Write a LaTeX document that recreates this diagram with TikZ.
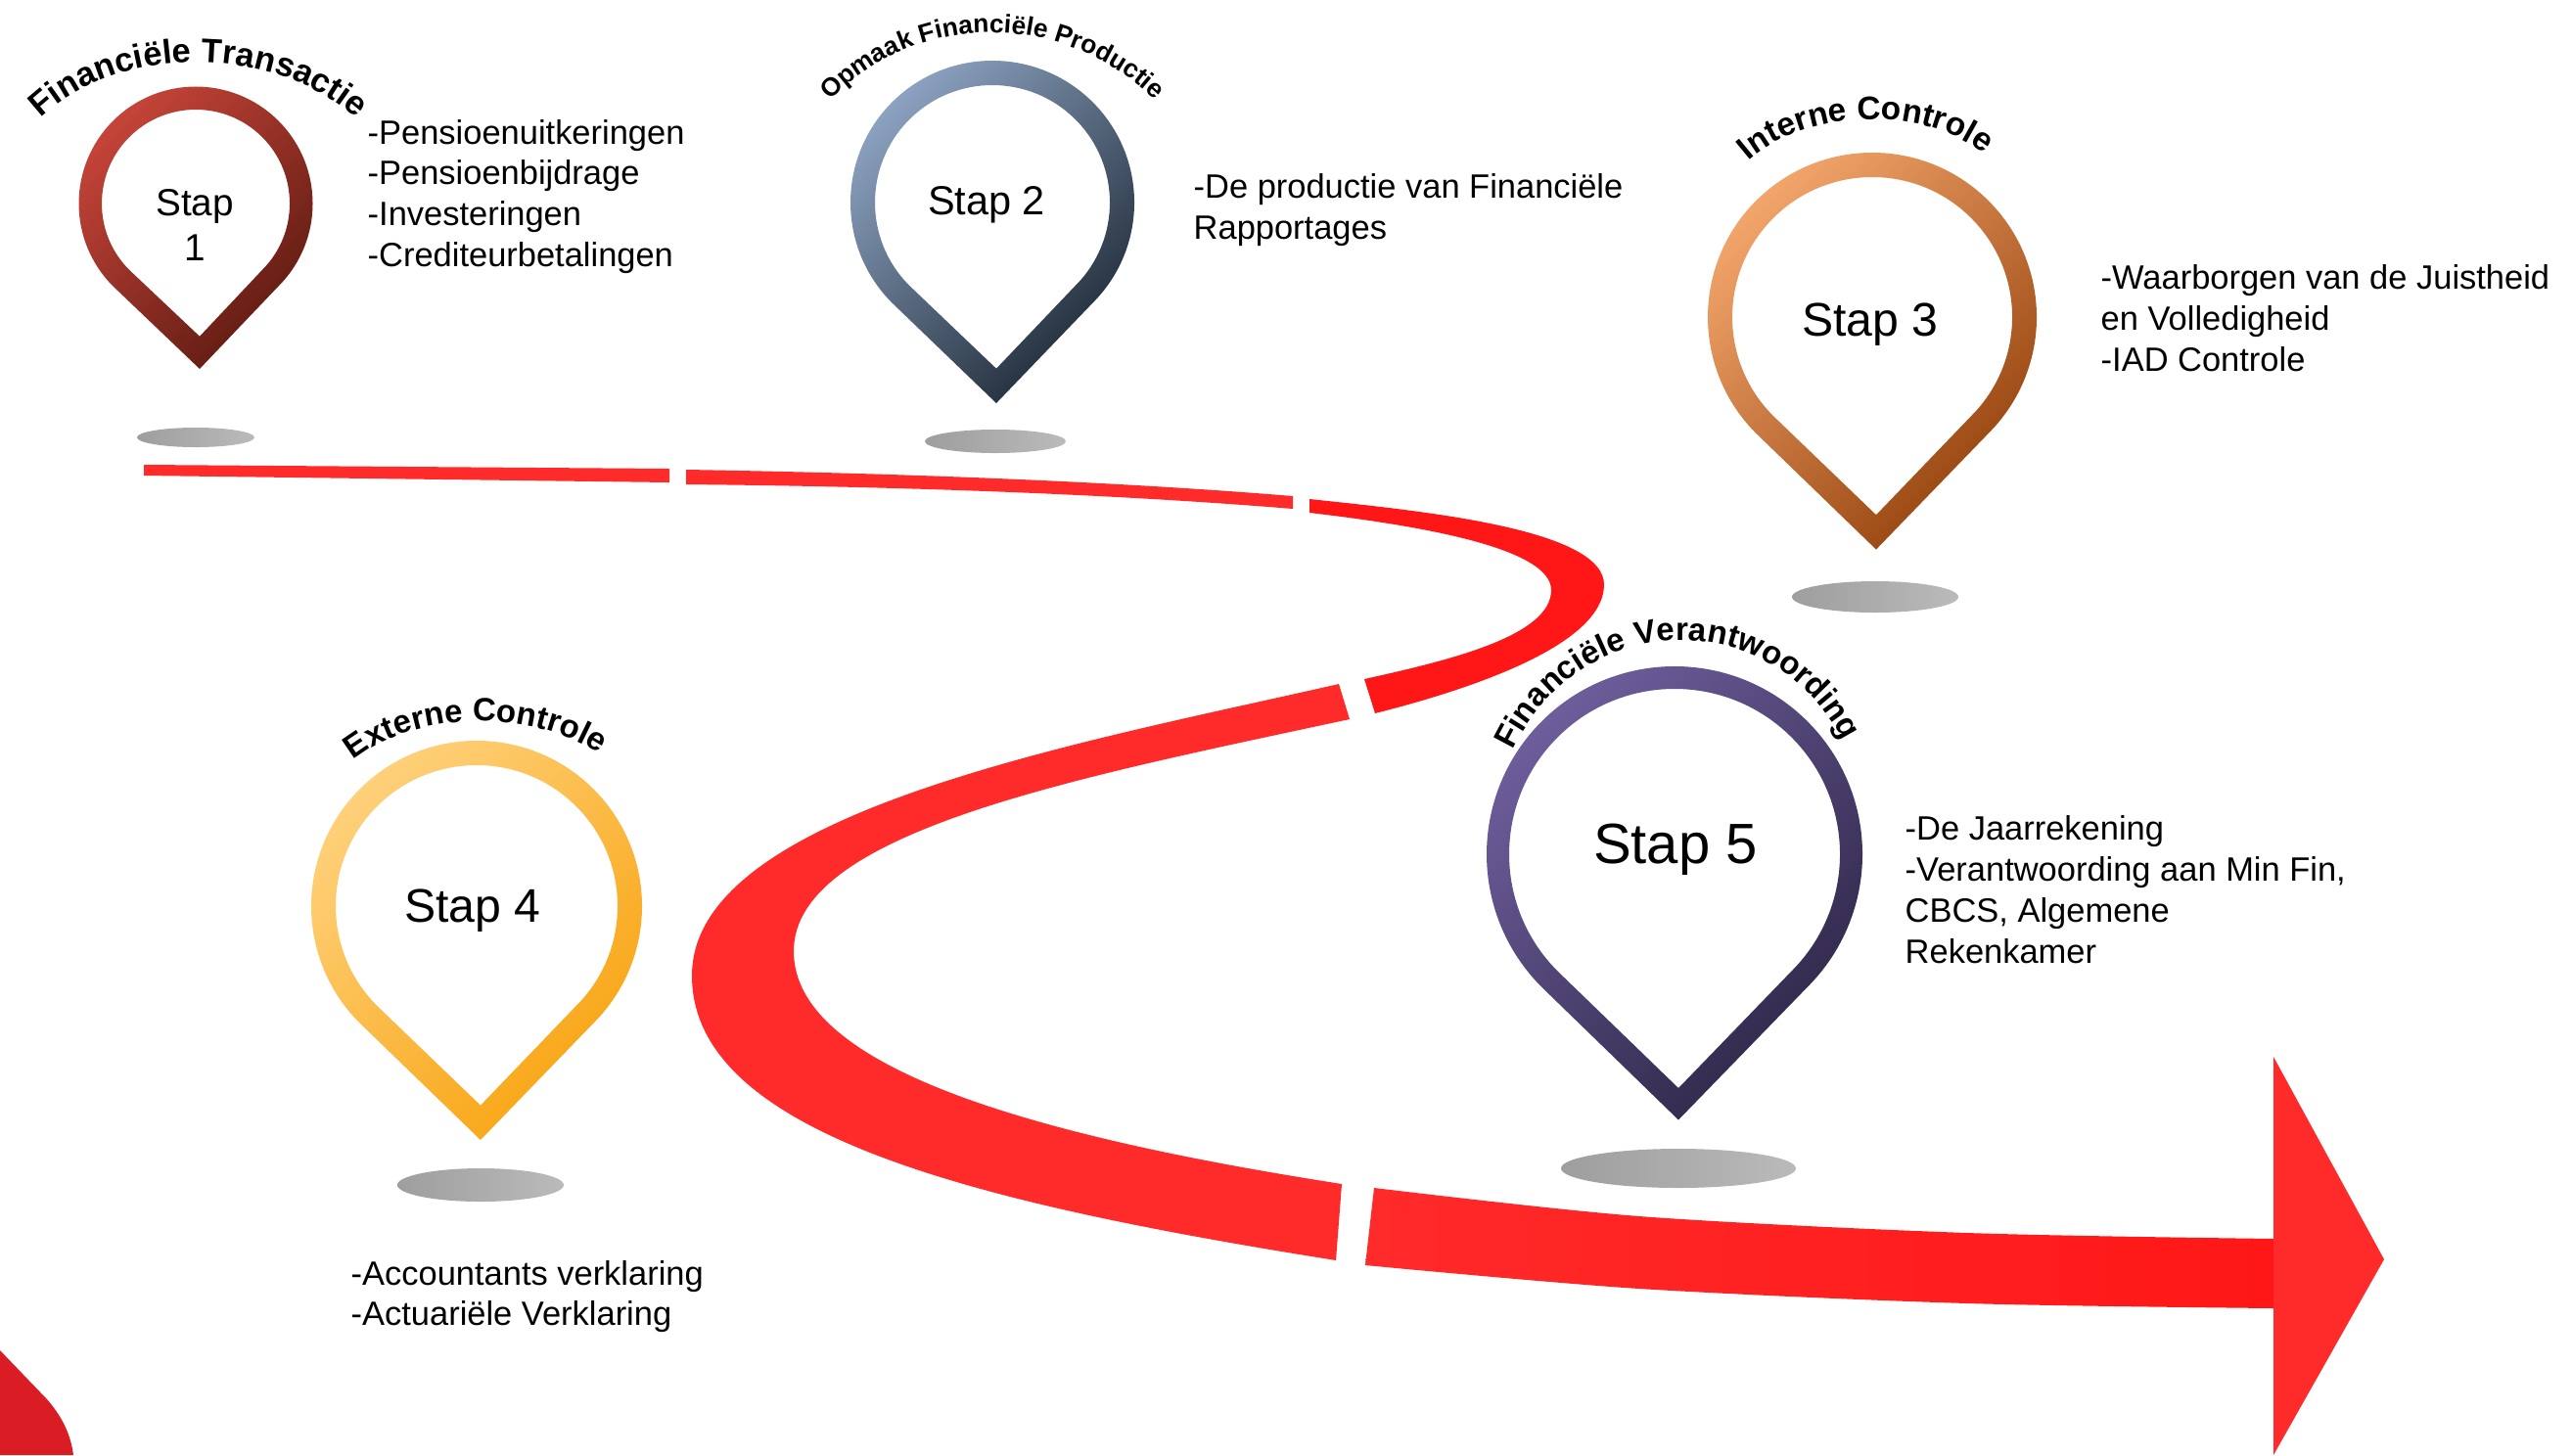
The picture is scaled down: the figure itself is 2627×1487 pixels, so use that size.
\documentclass[tikz,border=0pt]{standalone}
\usepackage{fontspec}
\setmainfont{Liberation Sans}
\usetikzlibrary{decorations.text}

\definecolor{roadred}{HTML}{FF2A2A}
\definecolor{roaddark}{HTML}{FF1717}
\definecolor{cornerred}{HTML}{DA1C24}
\definecolor{pinonelight}{HTML}{C8453A}
\definecolor{pinonedark}{HTML}{5C1A10}
\definecolor{pintwolight}{HTML}{8EA5C4}
\definecolor{pintwodark}{HTML}{1C2733}
\definecolor{pinthreelight}{HTML}{F5A86E}
\definecolor{pinthreedark}{HTML}{93400A}
\definecolor{pinfourlight}{HTML}{FFD27E}
\definecolor{pinfourdark}{HTML}{F8A30F}
\definecolor{pinfivelight}{HTML}{6F5F9E}
\definecolor{pinfivedark}{HTML}{2D2545}

\tikzset{
  listtext/.style={anchor=west, align=left, inner sep=0pt, font=\fontsize{9.8}{11.9}\selectfont},
  staptext/.style={align=center, inner sep=0pt},
  shadowspot/.style={left color=black!38, right color=black!27, draw=none}
}

% one marker: x, y, outer radius, inner radius, light colour, dark colour
\newcommand{\markerpin}[6]{
  \begin{scope}[shift={(#1,#2)}, x=0.01cm, y=0.01cm]
    \shade[even odd rule, left color=#5, right color=#6, shading angle=45]
      (4,{-1.414*#3}) -- ({-.707*#3},{-.707*#3}) arc[start angle=225, end angle=-45, radius=#3] -- cycle
      (4,{-1.414*#4}) -- ({-.707*#4},{-.707*#4}) arc[start angle=225, end angle=-45, radius=#4] -- cycle;
  \end{scope}
}
% text on a bent line: size, text, then the path
\newcommand{\bowtitle}[3]{
  \path[decorate, decoration={text along path, text align=center,
    text={|\fontsize{#1}{#1}\bfseries|#2}}] #3;
}

\begin{document}
\begin{tikzpicture}[x=0.01cm, y=-0.01cm]
  \useasboundingbox (0,0) rectangle (2627,1487);

  % Draw the road
  \fill[roadred] (147,475) -- (684,479) -- (684,493) -- (147,486) -- cycle;
  \fill[roadred] (701,480) .. controls (1000,485) and (1200,497) .. (1321,507) -- (1321,520) .. controls (1200,510) and (1000,498) .. (701,495) -- cycle;
  \fill[roaddark] (1338,510) .. controls (1450,522) and (1640,540) .. (1639,598) .. controls (1638,660) and (1500,705) .. (1405,729)
    -- (1394,694) .. controls (1480,675) and (1585,650) .. (1585,603) .. controls (1585,560) and (1450,537) .. (1338,524) -- cycle;
  \fill[roadred] (1368,699) .. controls (1100,760) and (707,830) .. (707,997) .. controls (707,1160) and (1000,1230) .. (1365,1288)
    -- (1371,1210) .. controls (1050,1160) and (811,1090) .. (811,972) .. controls (811,850) and (1100,795) .. (1379,735) -- cycle;
  \shade[left color=roadred, right color=roaddark]
    plot[smooth] coordinates {(1404,1214) (1675,1243) (2010,1260) (2323,1266)}
    -- plot[smooth] coordinates {(2323,1337) (2010,1332) (1675,1317) (1395,1293)} -- cycle;
  \fill[roadred] (2323,1080) -- (2436,1287) -- (2323,1487) -- cycle;

  % Corner at the bottom left
  \fill[cornerred] (0,1380) -- (48,1430) .. controls (62,1446) and (72,1464) .. (75,1487) -- (0,1487) -- cycle;

  % Draw the shadows
  \shade[shadowspot] (200,447) ellipse [x radius=60, y radius=10];
  \shade[shadowspot] (1017,451) ellipse [x radius=72, y radius=12];
  \shade[shadowspot] (1916,610) ellipse [x radius=85, y radius=16];
  \shade[shadowspot] (491,1211) ellipse [x radius=85, y radius=17];
  \shade[shadowspot] (1715,1194) ellipse [x radius=120, y radius=20];

  % Draw the markers
  \markerpin{200}{208}{119.5}{96}{pinonelight}{pinonedark}
  \markerpin{1014}{207}{145}{120}{pintwolight}{pintwodark}
  \markerpin{1913}{324}{168}{143}{pinthreelight}{pinthreedark}
  \markerpin{487}{926}{169}{144}{pinfourlight}{pinfourdark}
  \markerpin{1711}{873}{192}{169}{pinfivelight}{pinfivedark}

  % Titles above the markers
  \bowtitle{9.8}{Financiële Transactie}{(20,146) .. controls (95,36) and (305,36) .. (386,146)}
  \bowtitle{7.5}{Opmaak Financiële Productie}{(830,125) .. controls (920,3) and (1100,3) .. (1200,123)}
  \bowtitle{9.5}{Interne Controle}{(1770,182) .. controls (1830,103) and (1990,103) .. (2044,175)}
  \bowtitle{9.4}{Externe Controle}{(345,792) .. controls (410,720) and (560,720) .. (630,784)}
  \bowtitle{9.4}{Financiële Verantwoording}{(1530,810) .. controls (1585,604) and (1845,604) .. (1900,800)}

  % Text in the markers
  \node (stapone)   [staptext, font=\fontsize{11}{12.9}\selectfont] at (199,230) {Stap\\1};
  \node (staptwo)   [staptext, font=\fontsize{11.8}{14}\selectfont] at (1008,209) {Stap 2};
  \node (stapthree) [staptext, font=\fontsize{13.7}{16}\selectfont] at (1911,332) {Stap 3};
  \node (stapfour)  [staptext, font=\fontsize{13.7}{16}\selectfont] at (483,931) {Stap 4};
  \node (stapfive)  [staptext, font=\fontsize{16.5}{19}\selectfont] at (1712,868) {Stap 5};

  % Text beside the markers
  \node (listone)   [listtext] at (375,201) {-Pensioenuitkeringen\\-Pensioenbijdrage\\-Investeringen\\-Crediteurbetalingen};
  \node (listtwo)   [listtext] at (1219,215) {-De productie van Financiële\\Rapportages};
  \node (listthree) [listtext] at (2146,325) {-Waarborgen van de Juistheid\\en Volledigheid\\-IAD Controle};
  \node (listfour)  [listtext] at (358,1325) {-Accountants verklaring\\-Actuariële Verklaring};
  \node (listfive)  [listtext] at (1946,909) {-De Jaarrekening\\-Verantwoording aan Min Fin,\\CBCS, Algemene\\Rekenkamer};
\end{tikzpicture}
\end{document}
